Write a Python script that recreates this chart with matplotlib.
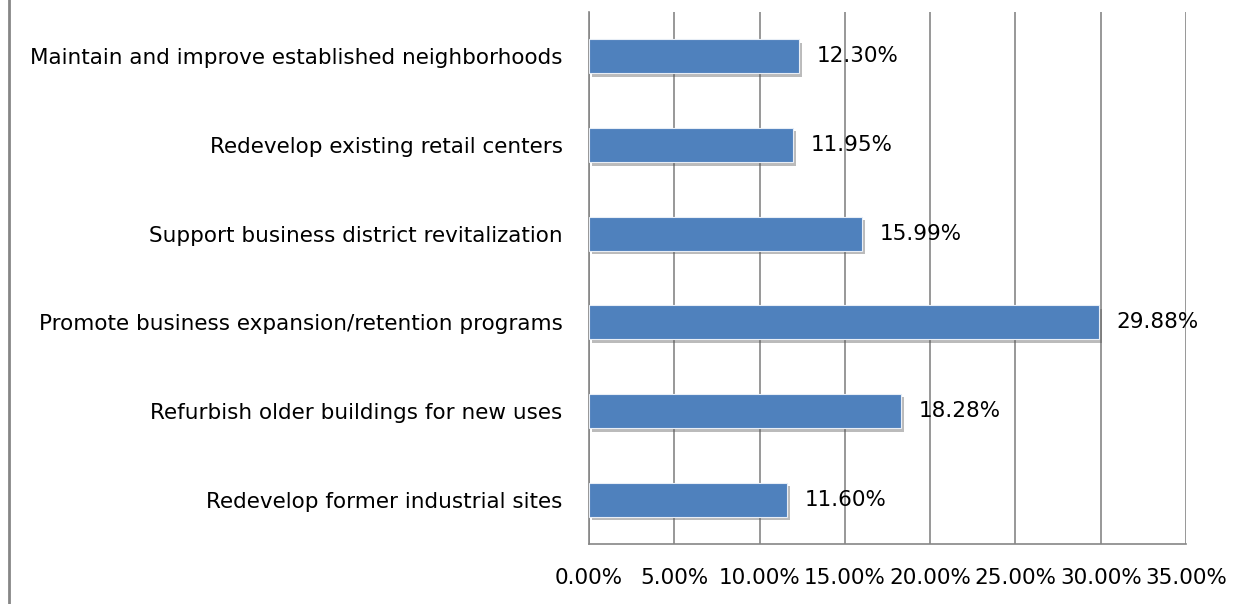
import matplotlib
matplotlib.use("Agg")
import matplotlib.pyplot as plt
import matplotlib.patheffects as pe
from matplotlib.lines import Line2D
from matplotlib.ticker import FuncFormatter

plt.rcParams['font.family'] = ['DejaVu Sans']

categories = ["Maintain and improve established neighborhoods",
              "Redevelop existing retail centers",
              "Support business district revitalization",
              "Promote business expansion/retention programs",
              "Refurbish older buildings for new uses",
              "Redevelop former industrial sites"]
values = [12.30, 11.95, 15.99, 29.88, 18.28, 11.60]
xticks = [0, 5, 10, 15, 20, 25, 30, 35]

fig = plt.figure(figsize=(12.5, 6.04), dpi=100)
ax = fig.add_axes([0.4712, 0.0993, 0.4776, 0.8808])

ypos = list(range(len(categories)))[::-1]
bars = ax.barh(ypos, values, height=0.385, color='#4F81BD', edgecolor='#E8EEF6',
               linewidth=0.8, zorder=3)
for b in bars:
    b.set_path_effects([pe.SimplePatchShadow(offset=(2.5, -2.5), shadow_rgbFace='#555555', alpha=0.4),
                        pe.Normal()])

for y, v in zip(ypos, values):
    ax.annotate("%.2f%%" % v, (v, y), xytext=(13, 0), textcoords='offset points',
                va='center', ha='left', fontsize=15.5, color='black', zorder=5)

ax.set_xlim(0, 35)
ax.set_ylim(-0.5, len(categories) - 0.5)
ax.set_xticks(xticks)
ax.xaxis.set_major_formatter(FuncFormatter(lambda x, p: "%.2f%%" % x))
ax.set_yticks(ypos)
ax.set_yticklabels(categories)
ax.tick_params(axis='both', length=0, labelsize=15.5)
ax.tick_params(axis='y', pad=19)
ax.tick_params(axis='x', pad=17)
ax.grid(axis='x', color='#868686', linewidth=1.2, zorder=0)
for s in ['top', 'right']:
    ax.spines[s].set_visible(False)
ax.spines['left'].set_color('#868686')
ax.spines['bottom'].set_color('#868686')
ax.spines['left'].set_linewidth(1.2)
ax.spines['bottom'].set_linewidth(1.2)

# outer frame line on the left
fig.add_artist(Line2D([0.0068, 0.0068], [0, 1], transform=fig.transFigure, color='#868686', linewidth=2))

fig.savefig("out.png", dpi=100)
